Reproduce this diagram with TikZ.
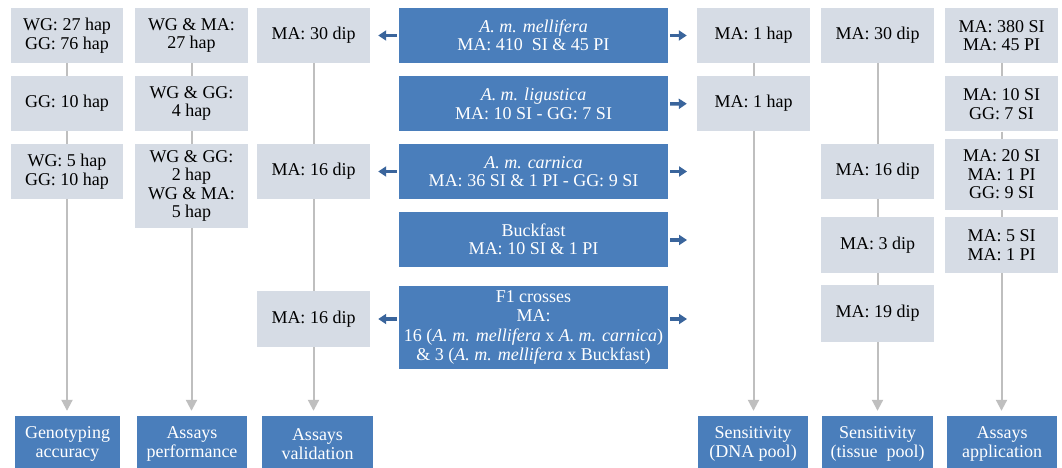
\documentclass[tikz,border=0pt]{standalone}
\usepackage{fontspec}
\setmainfont{Liberation Serif}
\usetikzlibrary{arrows.meta}
\definecolor{lightbox}{HTML}{D6DCE5}
\definecolor{bluebox}{HTML}{4A7EBB}
\definecolor{bluearr}{HTML}{3A659C}
\definecolor{grayline}{HTML}{BFBFBF}
\begin{document}
\begin{tikzpicture}[x=1pt,y=-1pt,
  every node/.style={font=\fontsize{18}{18.5}\selectfont, align=center, inner sep=0pt},
  lbox/.style={fill=lightbox, minimum width=113pt, minimum height=55pt},
  bbox/.style={fill=bluebox, text=white, minimum width=269pt, minimum height=55pt},
  obox/.style={fill=bluebox, text=white, minimum width=110pt, minimum height=56pt},
  gline/.style={draw=grayline, line width=2pt},
  garrow/.style={gline, -{Triangle[length=11pt,width=11pt]}, shorten >=5pt},
  barrow/.style={draw=bluearr, line width=3.5pt, -{Triangle[length=8pt,width=10pt]}, shorten <=2pt}
]
\clip (0,0) rectangle (1062,468);
\fill[white] (0,0) rectangle (1062,468);
% column 1
\node[lbox, minimum width=112pt] (c1a) at (67,35.5) {WG: 27 hap\\GG: 76 hap};
\node[lbox, minimum width=112pt] (c1b) at (67,103.5) {GG: 10 hap};
\node[lbox, minimum width=112pt] (c1c) at (67,171.5) {WG: 5 hap\\GG: 10 hap};
% column 2
\node[lbox] (c2a) at (191.5,35.5) {WG \& MA:\\27 hap};
\node[lbox] (c2b) at (191.5,103.5) {WG \& GG:\\4 hap};
\node[lbox, minimum height=84pt] (c2c) at (191.5,186) {WG \& GG:\\2 hap\\WG \& MA:\\5 hap};
% column 3
\node[lbox] (c3a) at (313.5,35.5) {MA: 30 dip};
\node[lbox] (c3c) at (313.5,171.5) {MA: 16 dip};
\node[lbox, minimum height=56pt] (c3e) at (313.5,319) {MA: 16 dip};
% centre
\node[bbox] (m1) at (533.5,35.5) {\textit{A. m. mellifera}\\MA: 410\ \ SI \& 45 PI};
\node[bbox] (m2) at (533.5,104) {\textit{A. m. ligustica}\\MA: 10 SI - GG: 7 SI};
\node[bbox] (m3) at (533.5,171.5) {\textit{A. m. carnica}\\MA: 36 SI \& 1 PI - GG: 9 SI};
\node[bbox] (m4) at (533.5,239.5) {Buckfast\\MA: 10 SI \& 1 PI};
\node[bbox, minimum height=83pt, font=\fontsize{18}{19.5}\selectfont] (m5) at (533.5,327.5) {F1 crosses\\MA:\\16 (\textit{A. m. mellifera} x \textit{A. m. carnica})\\\& 3 (\textit{A. m. mellifera} x Buckfast)};
% column A
\node[lbox] (a1) at (753.5,35.5) {MA: 1 hap};
\node[lbox] (a2) at (753.5,103.5) {MA: 1 hap};
% column B
\node[lbox] (b1) at (877.5,35.5) {MA: 30 dip};
\node[lbox] (b3) at (877.5,171.5) {MA: 16 dip};
\node[lbox, minimum height=56pt] (b4) at (877.5,245) {MA: 3 dip};
\node[lbox, minimum height=57pt] (b5) at (877.5,313.5) {MA: 19 dip};
% column C
\node[lbox] (k1) at (1001.5,35.5) {MA: 380 SI\\MA: 45 PI};
\node[lbox] (k2) at (1001.5,104) {MA: 10 SI\\GG: 7 SI};
\node[lbox, minimum height=71pt] (k3) at (1001.5,174.5) {MA: 20 SI\\MA: 1 PI\\GG: 9 SI};
\node[lbox, minimum height=56pt] (k4) at (1001.5,245) {MA: 5 SI\\MA: 1 PI};
% outcomes
\node[obox, minimum width=105pt] (o1) at (67.5,444) {Genotyping\\accuracy};
\node[obox] (o2) at (192,444) {Assays\\performance};
\node[obox, minimum width=111pt] (o3) at (317.5,444) {Assays\\validation};
\node[obox] (o4) at (753,444) {Sensitivity\\(DNA pool)};
\node[obox, minimum width=111pt] (o5) at (877.5,444) {Sensitivity\\(tissue\ \ pool)};
\node[obox] (o6) at (1002,444) {Assays\\application};
% gray connectors
\draw[gline] (c1a.south) -- (c1b.north);
\draw[gline] (c1b.south) -- (c1c.north);
\draw[garrow] (c1c.south) -- (c1c.south |- o1.north);
\draw[gline] (c2a.south) -- (c2b.north);
\draw[gline] (c2b.south) -- (c2c.north);
\draw[garrow] (c2c.south) -- (c2c.south |- o2.north);
\draw[gline] (c3a.south) -- (c3c.north);
\draw[gline] (c3c.south) -- (c3e.north);
\draw[garrow] (c3e.south) -- (c3e.south |- o3.north);
\draw[gline] (a1.south) -- (a2.north);
\draw[garrow] (a2.south) -- (a2.south |- o4.north);
\draw[gline] (b1.south) -- (b3.north);
\draw[gline] (b3.south) -- (b4.north);
\draw[gline] (b4.south) -- (b5.north);
\draw[garrow] (b5.south) -- (b5.south |- o5.north);
\draw[gline] (k1.south) -- (k2.north);
\draw[gline] (k2.south) -- (k3.north);
\draw[gline] (k3.south) -- (k4.north);
\draw[garrow] (k4.south) -- (k4.south |- o6.north);
% blue arrows
\coordinate (r3) at (687,171.5);
\coordinate (r4) at (687,240);
\coordinate (r5) at (687,319);
\draw[barrow, shorten >=8pt] (m1.west) -- (c3a.east);
\draw[barrow, shorten >=8pt] (m3.west) -- (c3c.east);
\draw[barrow, shorten >=8pt] (m5.west |- c3e.east) -- (c3e.east);
\draw[barrow, shorten >=10pt] (m1.east) -- (a1.west);
\draw[barrow, shorten >=10pt] (m2.east) -- (a2.west);
\draw[barrow] (m3.east) -- (r3);
\draw[barrow] (m4.east |- r4) -- (r4);
\draw[barrow] (m5.east |- r5) -- (r5);
\end{tikzpicture}
\end{document}
